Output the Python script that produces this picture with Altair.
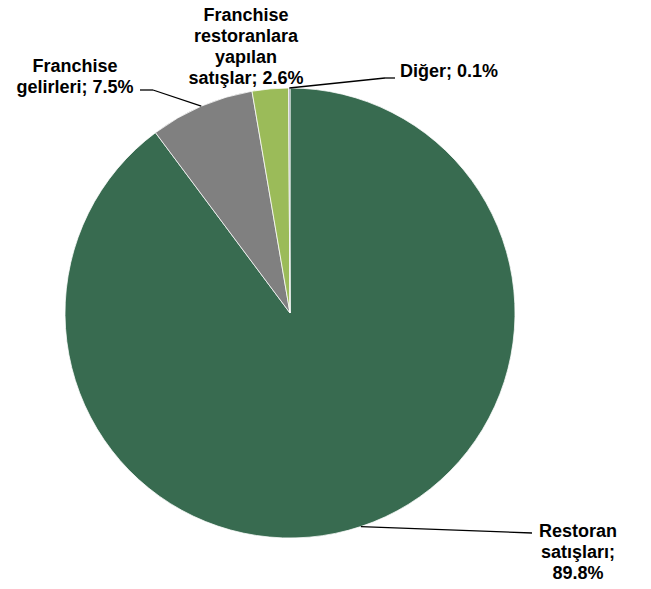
import altair as alt
import pandas as pd

# ---- data ----
categories = ["Restoran satışları", "Franchise gelirleri",
              "Franchise restoranlara yapılan satışlar", "Diğer"]
values = [89.8, 7.5, 2.6, 0.1]
label_templates = ["Restoran\nsatışları;\n{v}", "Franchise\ngelirleri; {v}",
                   "Franchise\nrestoranlara\nyapılan\nsatışlar; {v}", "Diğer; {v}"]
colors = ["#386b50", "#808080", "#9bbb59", "#8a8aa0"]

# ---- layout (chart pixel coords) ----
M = 8
CX, CY, R = 290 - M, 313 - M, 225
label_x = [578 - M, 75 - M, 246 - M, 449 - M]
label_y = [537 - M, 72 - M, 21 - M, 77 - M]
elbow_x = [532 - M, 153 - M, None, 385 - M]
elbow_y = [533 - M, 90 - M, None, 78 - M]
end_x = [532 - M, 140 - M, None, 395 - M]
end_y = [533 - M, 90 - M, None, 78 - M]

labels = [t.format(v=f"{v:.1f}%") for t, v in zip(label_templates, values)]

df = pd.DataFrame({
    "category": categories,
    "value": values,
    "order": list(range(len(categories))),
    "label": labels,
    "lx": label_x, "ly": label_y,
    "bx": elbow_x, "by": elbow_y,
    "ex": end_x, "ey": end_y,
})

base = alt.Chart(df)

pie = base.mark_arc(outerRadius=R, stroke="white", strokeWidth=0.75).encode(
    theta=alt.Theta("value:Q", stack=True),
    color=alt.Color("category:N", scale=alt.Scale(domain=categories, range=colors), legend=None),
    order=alt.Order("order:Q"),
    x=alt.value(CX),
    y=alt.value(CY),
)

lead = base.transform_window(
    cum="sum(value)", sort=[alt.SortField("order")], frame=[None, 0]
).transform_joinaggregate(total="sum(value)").transform_calculate(
    mid="2*PI*(datum.cum - datum.value/2)/datum.total"
).transform_calculate(
    sx=f"{CX} + {R}*sin(datum.mid)",
    sy=f"{CY} - {R}*cos(datum.mid)",
).transform_filter("isValid(datum.bx)")

seg1 = lead.mark_rule(color="black", strokeWidth=1.3).encode(
    x=alt.X("sx:Q", scale=None, axis=None),
    y=alt.Y("sy:Q", scale=None, axis=None),
    x2="bx:Q", y2="by:Q",
)
seg2 = lead.mark_rule(color="black", strokeWidth=1.3).encode(
    x=alt.X("bx:Q", scale=None, axis=None),
    y=alt.Y("by:Q", scale=None, axis=None),
    x2="ex:Q", y2="ey:Q",
)

text = base.mark_text(
    lineBreak="\n", font="Liberation Sans", fontWeight="bold", fontSize=18,
    lineHeight=21, align="center", baseline="alphabetic", color="black",
).encode(
    x=alt.X("lx:Q", scale=None, axis=None),
    y=alt.Y("ly:Q", scale=None, axis=None),
    text="label:N",
)

chart = alt.layer(pie, seg1, seg2, text).properties(
    width=635, height=573, padding=0, autosize="none", background="white"
).configure_view(stroke=None)

chart.save("out.html", embed_options={"renderer": "svg", "actions": False})
